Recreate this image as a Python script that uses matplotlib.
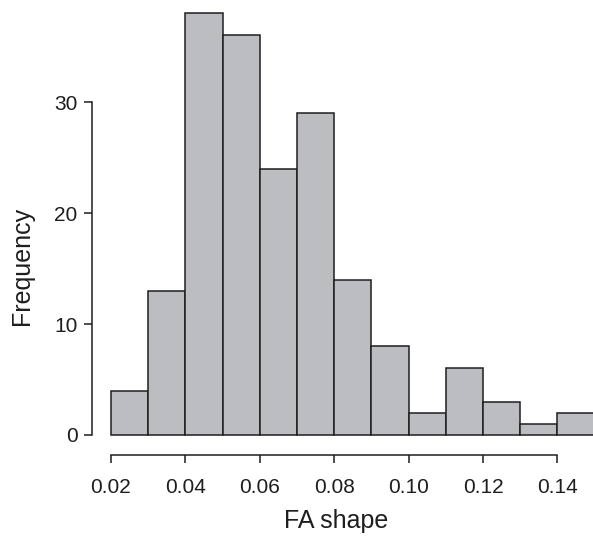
import matplotlib
matplotlib.use("Agg")
import matplotlib.pyplot as plt
import numpy as np

plt.rcParams['font.family'] = ['Liberation Sans', 'DejaVu Sans']

bin_edges = [0.02, 0.03, 0.04, 0.05, 0.06, 0.07, 0.08, 0.09, 0.10, 0.11, 0.12, 0.13, 0.14, 0.15]
counts = [4, 13, 38, 36, 24, 29, 14, 8, 2, 6, 3, 1, 2]
x_ticks = [0.02, 0.04, 0.06, 0.08, 0.10, 0.12, 0.14]
x_tick_labels = ["0.02", "0.04", "0.06", "0.08", "0.10", "0.12", "0.14"]
y_ticks = [0, 10, 20, 30]

W, H = 593, 536
fig = plt.figure(figsize=(W/100, H/100), dpi=100)
ax = fig.add_axes([85/W, (H-470)/H, 508/W, 470/H])

ax.hist(bin_edges[:-1], bins=bin_edges, weights=counts, color='#bcbdc1',
        edgecolor='#1e1e1e', linewidth=1.1)

px_per_x = 3720.0
px_per_y = 11.1
xl = 0.02 - (111-85)/px_per_x
xr = 0.02 + (593-111)/px_per_x
yb = -(470-435)/px_per_y
yt = 435/px_per_y
ax.set_xlim(xl, xr)
ax.set_ylim(yb, yt)

for s in ['top', 'right']:
    ax.spines[s].set_visible(False)
ax.spines['left'].set_position(('data', 0.02 - (111-92)/px_per_x))
ax.spines['left'].set_bounds(0, 30)
ax.spines['bottom'].set_position(('data', -(455-435)/px_per_y))
ax.spines['bottom'].set_bounds(0.02, 0.14)
for s in ['left', 'bottom']:
    ax.spines[s].set_linewidth(1.1)
    ax.spines[s].set_color('#1e1e1e')

ax.set_xticks(x_ticks)
ax.set_xticklabels(x_tick_labels)
ax.set_yticks(y_ticks)
ax.tick_params(axis='x', length=5.5, width=1.1, color='#1e1e1e', pad=11, labelsize=15, labelcolor='#1e1e1e')
ax.tick_params(axis='y', length=5.5, width=1.1, color='#1e1e1e', pad=5, labelsize=15, labelcolor='#1e1e1e')

fig.text(22/W, 1-266/H, "Frequency", rotation=90, ha='center', va='center', fontsize=18, color='#1e1e1e')
fig.text(336/W, 1-521/H, "FA shape", ha='center', va='center', fontsize=18, color='#1e1e1e')

fig.savefig("out.png", dpi=100)
